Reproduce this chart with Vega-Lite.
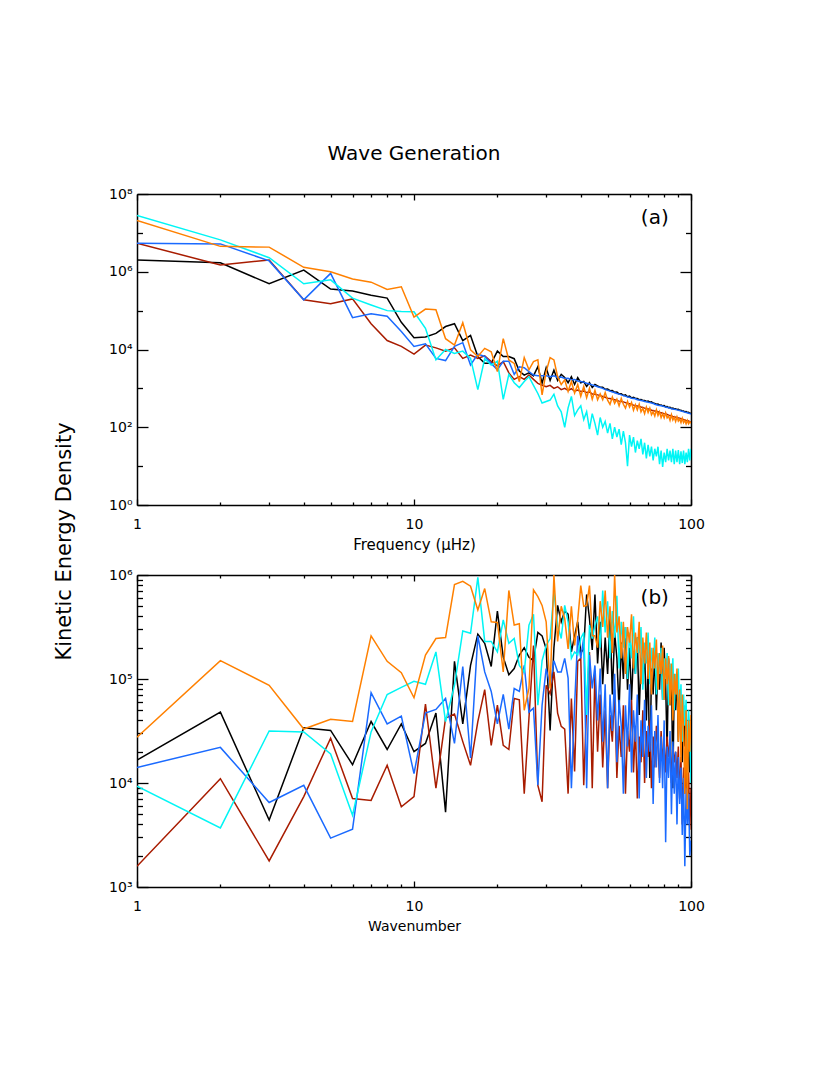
{
"$schema":"https://vega.github.io/schema/vega-lite/v6.json",
"padding":{"left":53,"top":144,"right":20,"bottom":20},
"bounds":"flush",
"spacing":70,
"background":"white",
"title":{"text":"Wave Generation","fontSize":20,"fontWeight":"normal","font":"DejaVu Sans","color":"black","anchor":"middle","frame":"group","offset":7,"baseline":"alphabetic"},
"config":{"font":"DejaVu Sans","view":{"stroke":null},
"axis":{"grid":false,"domainColor":"black","domainWidth":1.5,"tickColor":"black","tickWidth":1.3,"labelFont":"DejaVu Sans","labelFontSize":14,"labelColor":"black","titleFont":"DejaVu Sans","titleFontSize":14,"titleFontWeight":"normal","titleColor":"black","labelFlush":false,"labelOverlap":false,"labelBound":false}},
"datasets":{
"freq":[
{"k":1,"black":2.0e6,"red":5.4e6,"blue":5.4e6,"cyan":2.8e7,"orange":2.1e7},
{"k":2,"black":1.7e6,"red":1.5e6,"blue":5.2e6,"cyan":6.6e6,"orange":4.5e6},
{"k":3,"black":4.9e5,"red":2.0e6,"blue":1.9e6,"cyan":2.3e6,"orange":4.3e6},
{"k":4,"black":1.1e6,"red":1.9e5,"blue":1.9e5,"cyan":4.9e5,"orange":1.3e6},
{"k":5,"black":3.6e5,"red":1.5e5,"blue":9.1e5,"cyan":6.2e5,"orange":1.0e6},
{"k":6,"black":3.2e5,"red":2.0e5,"blue":6.6e4,"cyan":2.1e5,"orange":6.5e5},
{"k":7,"black":2.5e5,"red":4.6e4,"blue":8.3e4,"cyan":1.4e5,"orange":5.4e5},
{"k":8,"black":2.1e5,"red":1.7e4,"blue":7.2e4,"cyan":1.0e5,"orange":3.5e5},
{"k":9,"black":5.0e4,"red":1.2e4,"blue":2.9e4,"cyan":9.5e4,"orange":4.1e5},
{"k":10,"black":2.0e4,"red":7.6e3,"blue":1.2e4,"cyan":9.3e4,"orange":6.8e4},
{"k":11,"black":2.1e4,"red":1.3e4,"blue":1.4e4,"cyan":3.5e4,"orange":1.1e5},
{"k":12,"black":2.6e4,"red":1.1e4,"blue":5.9e3,"cyan":5.4e3,"orange":1.05e5},
{"k":13,"black":3.9e4,"red":9.1e3,"blue":5.2e3,"cyan":1.0e4,"orange":1.9e4},
{"k":14,"black":4.6e4,"red":1.1e4,"blue":1.2e4,"cyan":7.9e3,"orange":1.3e4},
{"k":15,"black":1.7e4,"red":5.9e3,"blue":1.5e4,"cyan":9.1e3,"orange":4.9e4},
{"k":16,"black":2.3e4,"red":7.2e3,"blue":4.0e3,"cyan":5.9e3,"orange":9.8e3},
{"k":17,"black":6.6e3,"red":5.9e3,"blue":7.6e3,"cyan":9.3e2,"orange":6.6e3},
{"k":18,"black":4.4e3,"red":6.9e3,"blue":6.6e3,"cyan":5.8e3,"orange":1.07e4},
{"k":19,"black":4.4e3,"red":4.9e3,"blue":4.4e3,"cyan":4.0e3,"orange":8.7e3},
{"k":20,"black":9.1e3,"red":3.8e3,"blue":3.0e3,"cyan":5.0e3,"orange":2.7e3},
{"k":21,"black":6.6e3,"red":4.9e3,"blue":5.0e3,"cyan":5.2e2,"orange":1.9e4},
{"k":22,"black":6.6e3,"red":2.5e3,"blue":5.0e3,"cyan":2.3e3,"orange":5.4e3},
{"k":23,"black":5.8e3,"red":1.7e3,"blue":2.3e3,"cyan":1.4e3,"orange":4.4e3},
{"k":24,"black":2.8e3,"red":2.0e3,"blue":3.6e3,"cyan":1.05e3,"orange":1.5e3},
{"k":25,"black":2.2e3,"red":1.7e3,"blue":3.4e3,"cyan":1.5e3,"orange":6.2e3},
{"k":26,"black":2.5e3,"red":2.2e3,"blue":2.7e3,"cyan":2.0e3,"orange":3.0e3},
{"k":27,"black":2.1e3,"red":1.7e3,"blue":2.2e3,"cyan":1.2e3,"orange":4.9e3},
{"k":28,"black":3.6e3,"red":1.35e3,"blue":2.1e3,"cyan":7.4e2,"orange":5.4e3},
{"k":29,"black":1.35e3,"red":1.2e3,"blue":2.1e3,"cyan":4.2e2,"orange":6.8e2},
{"k":30,"black":3.4e3,"red":1.1e3,"blue":2.1e3,"cyan":4.6e2,"orange":2.7e3},
{"k":31,"black":1.6e3,"red":1.2e3,"blue":2.0e3,"cyan":5.0e2,"orange":6.2e3},
{"k":32,"black":2.95e3,"red":1.0e3,"blue":2.1e3,"cyan":7.1e2,"orange":5.4e3},
{"k":33,"black":1.6e3,"red":1.1e3,"blue":1.9e3,"cyan":3.55e2,"orange":2.0e3},
{"k":34,"black":2.3e3,"red":9.3e2,"blue":1.95e3,"cyan":2.5e2,"orange":1.26e3},
{"k":35,"black":1.9e3,"red":1.0e3,"blue":1.8e3,"cyan":1.0e2,"orange":1.66e3},
{"k":36,"black":1.4e3,"red":8.9e2,"blue":1.82e3,"cyan":3.16e2,"orange":8.3e2},
{"k":37,"black":2.0e3,"red":9.8e2,"blue":1.66e3,"cyan":6.2e2,"orange":1.5e3},
{"k":38,"black":1.26e3,"red":8.5e2,"blue":1.7e3,"cyan":2.0e2,"orange":7.6e2},
{"k":39,"black":1.9e3,"red":9.1e2,"blue":1.55e3,"cyan":2.8e2,"orange":1.26e3},
{"k":40,"black":1.4e3,"red":8.3e2,"blue":1.5e3,"cyan":3.55e2,"orange":6.3e2},
{"k":41,"black":1.5e3,"red":8.5e2,"blue":1.45e3,"cyan":1.58e2,"orange":1.12e3},
{"k":42,"black":1.12e3,"red":7.8e2,"blue":1.35e3,"cyan":2.5e2,"orange":5.75e2},
{"k":43,"black":1.4e3,"red":8.1e2,"blue":1.29e3,"cyan":8.9e1,"orange":1.0e3},
{"k":44,"black":1.05e3,"red":7.2e2,"blue":1.23e3,"cyan":2.24e2,"orange":5.25e2},
{"k":45,"black":1.26e3,"red":7.1e2,"blue":1.17e3,"cyan":1.26e2,"orange":8.9e2},
{"k":46,"black":1.15e3,"red":6.8e2,"blue":1.1e3,"cyan":6.3e1,"orange":5.1e2},
{"k":47,"black":1.07e3,"red":6.5e2,"blue":1.05e3,"cyan":1.78e2,"orange":7.2e2},
{"k":48,"black":1.07e3,"red":6.2e2,"blue":1.0e3,"cyan":1.0e2,"orange":5.1e2},
{"k":49,"black":9.5e2,"red":5.9e2,"blue":9.3e2,"cyan":1.41e2,"orange":7.8e2},
{"k":50,"black":9.6e2,"red":5.6e2,"blue":8.9e2,"cyan":7.1e1,"orange":5.0e2},
{"k":51,"black":8.7e2,"red":5.5e2,"blue":8.5e2,"cyan":1.26e2,"orange":3.9e2},
{"k":52,"black":8.8e2,"red":5.25e2,"blue":8.1e2,"cyan":5.0e1,"orange":6.0e2},
{"k":53,"black":7.9e2,"red":5.1e2,"blue":7.8e2,"cyan":1.0e2,"orange":4.1e2},
{"k":54,"black":8.0e2,"red":4.9e2,"blue":7.4e2,"cyan":5.6e1,"orange":5.25e2},
{"k":55,"black":7.2e2,"red":4.7e2,"blue":7.1e2,"cyan":8.9e1,"orange":3.55e2},
{"k":56,"black":7.3e2,"red":4.6e2,"blue":6.8e2,"cyan":3.55e1,"orange":5.5e2},
{"k":57,"black":6.6e2,"red":4.5e2,"blue":6.5e2,"cyan":7.9e1,"orange":3.9e2},
{"k":58,"black":6.8e2,"red":4.3e2,"blue":6.3e2,"cyan":4.0e1,"orange":3.1e2},
{"k":59,"black":6.1e2,"red":4.1e2,"blue":6.0e2,"cyan":1.0e1,"orange":4.6e2},
{"k":60,"black":6.3e2,"red":4.0e2,"blue":5.9e2,"cyan":6.3e1,"orange":3.3e2},
{"k":61,"black":5.7e2,"red":3.9e2,"blue":5.6e2,"cyan":3.16e1,"orange":4.3e2},
{"k":62,"black":5.9e2,"red":3.7e2,"blue":5.5e2,"cyan":5.6e1,"orange":2.75e2},
{"k":63,"black":5.5e2,"red":3.6e2,"blue":5.4e2,"cyan":2.24e1,"orange":3.8e2},
{"k":64,"black":5.5e2,"red":3.5e2,"blue":5.1e2,"cyan":4.5e1,"orange":2.8e2},
{"k":65,"black":5.1e2,"red":3.4e2,"blue":5.0e2,"cyan":2.8e1,"orange":3.9e2},
{"k":66,"black":5.2e2,"red":3.3e2,"blue":4.9e2,"cyan":5.0e1,"orange":2.5e2},
{"k":67,"black":4.9e2,"red":3.24e2,"blue":4.8e2,"cyan":2.0e1,"orange":3.1e2},
{"k":68,"black":4.9e2,"red":3.1e2,"blue":4.6e2,"cyan":4.0e1,"orange":2.24e2},
{"k":69,"black":4.6e2,"red":3.0e2,"blue":4.5e2,"cyan":1.58e1,"orange":3.3e2},
{"k":70,"black":4.7e2,"red":2.95e2,"blue":4.4e2,"cyan":3.55e1,"orange":2.4e2},
{"k":71,"black":4.4e2,"red":2.9e2,"blue":4.3e2,"cyan":1.78e1,"orange":3.1e2},
{"k":72,"black":4.5e2,"red":2.75e2,"blue":4.2e2,"cyan":3.16e1,"orange":2.1e2},
{"k":73,"black":4.2e2,"red":2.7e2,"blue":4.1e2,"cyan":1.41e1,"orange":2.5e2},
{"k":74,"black":4.1e2,"red":2.6e2,"blue":3.9e2,"cyan":2.8e1,"orange":1.95e2},
{"k":75,"black":3.9e2,"red":2.57e2,"blue":3.8e2,"cyan":1.78e1,"orange":2.8e2},
{"k":76,"black":3.95e2,"red":2.5e2,"blue":3.7e2,"cyan":3.16e1,"orange":2.0e2},
{"k":77,"black":3.7e2,"red":2.4e2,"blue":3.6e2,"cyan":1.12e1,"orange":2.5e2},
{"k":78,"black":3.75e2,"red":2.35e2,"blue":3.55e2,"cyan":2.5e1,"orange":1.78e2},
{"k":79,"black":3.55e2,"red":2.3e2,"blue":3.5e2,"cyan":9.5,"orange":2.24e2},
{"k":80,"black":3.6e2,"red":2.24e2,"blue":3.4e2,"cyan":2.24e1,"orange":1.74e2},
{"k":81,"black":3.35e2,"red":2.2e2,"blue":3.3e2,"cyan":1.26e1,"orange":2.35e2},
{"k":82,"black":3.4e2,"red":2.14e2,"blue":3.24e2,"cyan":2.8e1,"orange":1.74e2},
{"k":83,"black":3.2e2,"red":2.04e2,"blue":3.16e2,"cyan":1.41e1,"orange":1.95e2},
{"k":84,"black":3.25e2,"red":2.0e2,"blue":3.1e2,"cyan":2.5e1,"orange":1.5e2},
{"k":85,"black":3.05e2,"red":1.95e2,"blue":3.0e2,"cyan":1.26e1,"orange":2.1e2},
{"k":86,"black":3.1e2,"red":1.9e2,"blue":2.95e2,"cyan":2.8e1,"orange":1.55e2},
{"k":87,"black":2.95e2,"red":1.86e2,"blue":2.9e2,"cyan":1.12e1,"orange":1.82e2},
{"k":88,"black":3.0e2,"red":1.82e2,"blue":2.88e2,"cyan":2.5e1,"orange":1.41e2},
{"k":89,"black":2.85e2,"red":1.78e2,"blue":2.8e2,"cyan":1.26e1,"orange":1.86e2},
{"k":90,"black":2.9e2,"red":1.74e2,"blue":2.75e2,"cyan":2.6e1,"orange":1.45e2},
{"k":91,"black":2.75e2,"red":1.7e2,"blue":2.7e2,"cyan":1.12e1,"orange":1.62e2},
{"k":92,"black":2.75e2,"red":1.66e2,"blue":2.6e2,"cyan":2.4e1,"orange":1.32e2},
{"k":93,"black":2.6e2,"red":1.62e2,"blue":2.57e2,"cyan":1.2e1,"orange":1.7e2},
{"k":94,"black":2.62e2,"red":1.58e2,"blue":2.5e2,"cyan":2.5e1,"orange":1.32e2},
{"k":95,"black":2.5e2,"red":1.55e2,"blue":2.45e2,"cyan":1.12e1,"orange":1.5e2},
{"k":96,"black":2.52e2,"red":1.5e2,"blue":2.4e2,"cyan":2.24e1,"orange":1.23e2},
{"k":97,"black":2.4e2,"red":1.48e2,"blue":2.35e2,"cyan":1.26e1,"orange":1.5e2},
{"k":98,"black":2.42e2,"red":1.45e2,"blue":2.3e2,"cyan":2.8e1,"orange":1.23e2},
{"k":99,"black":2.28e2,"red":1.38e2,"blue":2.24e2,"cyan":1.41e1,"orange":1.38e2},
{"k":100,"black":2.3e2,"red":1.35e2,"blue":2.2e2,"cyan":2.8e1,"orange":1.26e2}
],
"wave":[
{"k":1,"black":1.66e4,"red":1.58e3,"blue":1.41e4,"cyan":9.3e3,"orange":2.75e4},
{"k":2,"black":4.8e4,"red":1.1e4,"blue":2.2e4,"cyan":3.7e3,"orange":1.5e5},
{"k":3,"black":4.4e3,"red":1.78e3,"blue":6.5e3,"cyan":3.16e4,"orange":8.7e4},
{"k":4,"black":3.4e4,"red":7.4e3,"blue":9.5e3,"cyan":3.1e4,"orange":3.3e4},
{"k":5,"black":3.2e4,"red":2.7e4,"blue":2.95e3,"cyan":1.9e4,"orange":4.1e4},
{"k":6,"black":1.5e4,"red":7.1e3,"blue":3.6e3,"cyan":4.9e3,"orange":3.9e4},
{"k":7,"black":3.9e4,"red":6.8e3,"blue":7.4e4,"cyan":3.1e4,"orange":2.6e5},
{"k":8,"black":2.1e4,"red":1.48e4,"blue":3.7e4,"cyan":7.1e4,"orange":1.48e5},
{"k":9,"black":3.7e4,"red":5.9e3,"blue":4.4e4,"cyan":8.3e4,"orange":1.15e5},
{"k":10,"black":2.0e4,"red":7.4e3,"blue":1.23e4,"cyan":9.5e4,"orange":6.6e4},
{"k":11,"black":2.4e4,"red":5.75e4,"blue":4.7e4,"cyan":8.9e4,"orange":1.7e5},
{"k":12,"black":4.7e4,"red":8.9e3,"blue":5.1e4,"cyan":1.82e5,"orange":2.45e5},
{"k":13,"black":5.25e3,"red":4.2e4,"blue":6.5e4,"cyan":3.9e4,"orange":2.5e5},
{"k":14,"black":1.48e5,"red":4.6e4,"blue":2.4e4,"cyan":8.7e4,"orange":8.1e5},
{"k":15,"black":3.7e4,"red":2.5e4,"blue":1.32e5,"cyan":2.9e5,"orange":8.7e5},
{"k":16,"black":1.35e5,"red":1.48e4,"blue":1.74e4,"cyan":2.75e5,"orange":7.8e5},
{"k":17,"black":2.7e5,"red":3.9e4,"blue":2.6e5,"cyan":9.5e5,"orange":4.6e5},
{"k":18,"black":2.2e5,"red":7.9e4,"blue":1.17e5,"cyan":2.3e5,"orange":7.4e5},
{"k":19,"black":1.32e5,"red":2.3e4,"blue":7.6e4,"cyan":2.3e5,"orange":3.55e5},
{"k":20,"black":4.5e5,"red":5.6e4,"blue":3.7e4,"cyan":1.82e5,"orange":3.5e5},
{"k":21,"black":1.62e5,"red":2.3e4,"blue":7.1e4,"cyan":3.7e5,"orange":1.17e5},
{"k":22,"black":1.1e5,"red":2.1e4,"blue":3.3e4,"cyan":2.2e5,"orange":7.1e5},
{"k":23,"black":1.26e5,"red":6.5e4,"blue":8.1e4,"cyan":2.45e5,"orange":3.3e5},
{"k":24,"black":1.7e5,"red":6.3e4,"blue":7.6e4,"cyan":1.35e5,"orange":3.4e5},
{"k":25,"black":2.0e5,"red":7.9e3,"blue":1.35e5,"cyan":1.17e5,"orange":5.0e4},
{"k":26,"black":1.62e5,"red":4.2e4,"blue":4.8e4,"cyan":3.3e5,"orange":8.1e4},
{"k":27,"black":1.5e5,"red":2.1e5,"blue":5.25e4,"cyan":4.2e5,"orange":7.2e5},
{"k":28,"black":2.8e5,"red":9.5e3,"blue":9.5e3,"cyan":5.6e4,"orange":6.2e5},
{"k":29,"black":2.6e5,"red":6.6e3,"blue":5.6e4,"cyan":1.5e5,"orange":5.1e5},
{"k":30,"black":1.95e5,"red":8.7e4,"blue":1.26e5,"cyan":2.1e5,"orange":3.55e5},
{"k":31,"black":3.2e4,"red":7.2e4,"blue":8.7e4,"cyan":2.45e5,"orange":8.1e4},
{"k":32,"black":2.0e5,"red":1.17e5,"blue":1.5e5,"cyan":6.9e5,"orange":1.0e6},
{"k":33,"black":5.1e5,"red":4.7e4,"blue":1.17e5,"cyan":3.3e5,"orange":2.3e5},
{"k":34,"black":3.55e5,"red":3.5e4,"blue":1.17e5,"cyan":2.45e5,"orange":5.0e5},
{"k":35,"black":4.5e5,"red":3.3e4,"blue":1.58e5,"cyan":5.1e5,"orange":3.8e5},
{"k":36,"black":4.2e5,"red":7.9e3,"blue":1.02e5,"cyan":3.55e5,"orange":1.95e5},
{"k":37,"black":1.82e5,"red":6.5e4,"blue":8.9e3,"cyan":1.58e5,"orange":5.0e5},
{"k":38,"black":2.6e5,"red":1.29e4,"blue":5.6e4,"cyan":1.82e5,"orange":2.1e5},
{"k":39,"black":3.55e5,"red":1.48e5,"blue":2.6e5,"cyan":1.7e5,"orange":3.7e5},
{"k":40,"black":1.78e5,"red":1.58e5,"blue":1.58e5,"cyan":2.45e5,"orange":7.9e5},
{"k":41,"black":1.95e5,"red":9.5e3,"blue":2.5e5,"cyan":2.8e5,"orange":5.0e5},
{"k":42,"black":6.5e5,"red":5.6e4,"blue":8.9e3,"cyan":4.5e4,"orange":5.1e5},
{"k":43,"black":3.8e5,"red":1.82e5,"blue":1.7e5,"cyan":3.3e5,"orange":7.9e5},
{"k":44,"black":1.9e5,"red":8.9e3,"blue":8.1e4,"cyan":2.45e5,"orange":2.6e5},
{"k":45,"black":6.5e5,"red":1.17e5,"blue":1.35e5,"cyan":3.3e5,"orange":2.6e5},
{"k":46,"black":1.41e5,"red":2.0e4,"blue":4.0e4,"cyan":4.0e5,"orange":2.0e5},
{"k":47,"black":3.55e5,"red":7.1e4,"blue":1.26e5,"cyan":2.0e5,"orange":5.6e5},
{"k":48,"black":8.9e4,"red":1.41e4,"blue":2.5e4,"cyan":7.1e5,"orange":3.16e5},
{"k":49,"black":2.5e5,"red":5.0e4,"blue":8.9e4,"cyan":2.8e5,"orange":7.1e5},
{"k":50,"black":1.12e5,"red":8.9e3,"blue":8.9e3,"cyan":5.6e5,"orange":2.5e5},
{"k":51,"black":4.0e5,"red":4.5e4,"blue":7.1e4,"cyan":1.58e5,"orange":5.0e5},
{"k":52,"black":7.1e4,"red":2.5e4,"blue":3.16e4,"cyan":4.5e5,"orange":1.78e5},
{"k":53,"black":2.8e5,"red":7.9e4,"blue":1.12e5,"cyan":2.5e5,"orange":1.0e6},
{"k":54,"black":1.58e5,"red":1.12e4,"blue":1.58e4,"cyan":6.3e5,"orange":2.8e5},
{"k":55,"black":5.0e4,"red":3.55e4,"blue":6.3e4,"cyan":1.26e5,"orange":4.0e5},
{"k":56,"black":2.24e5,"red":1.78e4,"blue":3.55e4,"cyan":3.55e5,"orange":1.58e5},
{"k":57,"black":1.0e5,"red":5.6e4,"blue":7.9e3,"cyan":2.0e5,"orange":3.55e5},
{"k":58,"black":3.16e5,"red":7.9e3,"blue":5.6e4,"cyan":3.16e5,"orange":1.12e5},
{"k":59,"black":7.9e4,"red":3.16e4,"blue":2.24e4,"cyan":1.0e5,"orange":3.16e5},
{"k":60,"black":2.0e5,"red":2.0e4,"blue":8.9e4,"cyan":2.8e5,"orange":2.24e5},
{"k":61,"black":6.3e4,"red":6.3e4,"blue":1.26e4,"cyan":1.58e5,"orange":4.2e5},
{"k":62,"black":1.78e5,"red":1.26e4,"blue":5.0e4,"cyan":4.0e5,"orange":1.26e5},
{"k":63,"black":1.12e5,"red":3.55e4,"blue":2.5e4,"cyan":1.12e5,"orange":2.8e5},
{"k":64,"black":2.5e5,"red":7.1e3,"blue":7.1e4,"cyan":2.5e5,"orange":1.78e5},
{"k":65,"black":4.5e4,"red":2.8e4,"blue":7.1e3,"cyan":1.78e5,"orange":3.55e5},
{"k":66,"black":1.58e5,"red":1.58e4,"blue":4.0e4,"cyan":3.16e5,"orange":8.9e4},
{"k":67,"black":8.9e4,"red":5.0e4,"blue":1.78e4,"cyan":7.9e4,"orange":2.5e5},
{"k":68,"black":2.0e5,"red":1.0e4,"blue":6.3e4,"cyan":2.24e5,"orange":1.41e5},
{"k":69,"black":4.0e4,"red":3.16e4,"blue":1.12e4,"cyan":1.41e5,"orange":2.8e5},
{"k":70,"black":1.41e5,"red":1.78e4,"blue":3.55e4,"cyan":2.8e5,"orange":1.0e5},
{"k":71,"black":1.12e4,"red":4.0e4,"blue":2.0e4,"cyan":8.9e4,"orange":2.24e5},
{"k":72,"black":1.26e5,"red":8.9e3,"blue":5.6e4,"cyan":2.0e5,"orange":7.1e4},
{"k":73,"black":7.1e4,"red":2.8e4,"blue":6.3e3,"cyan":1.26e5,"orange":2.0e5},
{"k":74,"black":1.78e5,"red":1.41e4,"blue":3.16e4,"cyan":2.5e5,"orange":1.26e5},
{"k":75,"black":5.0e4,"red":3.55e4,"blue":1.41e4,"cyan":7.1e4,"orange":2.4e5},
{"k":76,"black":1.41e5,"red":2.24e4,"blue":4.5e4,"cyan":1.78e5,"orange":7.9e4},
{"k":77,"black":7.9e4,"red":1.12e4,"blue":1.0e4,"cyan":1.12e5,"orange":1.78e5},
{"k":78,"black":2.24e5,"red":3.16e4,"blue":2.8e4,"cyan":2.0e5,"orange":1.12e5},
{"k":79,"black":6.3e4,"red":1.58e4,"blue":8.9e3,"cyan":6.3e4,"orange":2.1e5},
{"k":80,"black":2.0e5,"red":2.5e4,"blue":4.0e4,"cyan":1.58e5,"orange":6.3e4},
{"k":81,"black":8.9e4,"red":1.26e4,"blue":2.7e3,"cyan":1.0e5,"orange":1.58e5},
{"k":82,"black":2.0e4,"red":2.8e4,"blue":2.24e4,"cyan":1.78e5,"orange":8.9e4},
{"k":83,"black":1.58e5,"red":1.78e4,"blue":1.12e4,"cyan":5.6e4,"orange":1.66e5},
{"k":84,"black":5.6e4,"red":2.5e4,"blue":3.16e4,"cyan":1.41e5,"orange":5.6e4},
{"k":85,"black":1.26e5,"red":1.0e4,"blue":5.0e3,"cyan":8.9e4,"orange":1.41e5},
{"k":86,"black":8.9e3,"red":2.24e4,"blue":2.5e4,"cyan":1.58e5,"orange":4.0e4},
{"k":87,"black":1.0e5,"red":1.58e4,"blue":7.9e3,"cyan":5.0e4,"orange":1.12e5},
{"k":88,"black":5.0e4,"red":2.0e4,"blue":2.0e4,"cyan":1.12e5,"orange":7.1e4},
{"k":89,"black":1.12e5,"red":1.12e4,"blue":4.0e3,"cyan":7.1e4,"orange":1.26e5},
{"k":90,"black":2.5e4,"red":2.24e4,"blue":1.78e4,"cyan":1.26e5,"orange":2.5e4},
{"k":91,"black":7.9e4,"red":7.1e3,"blue":6.3e3,"cyan":4.0e4,"orange":7.9e4},
{"k":92,"black":3.55e4,"red":1.78e4,"blue":1.41e4,"cyan":8.9e4,"orange":1.58e4},
{"k":93,"black":1.58e4,"red":4.0e3,"blue":3.16e3,"cyan":2.5e4,"orange":7.1e4},
{"k":94,"black":5.6e4,"red":1.41e4,"blue":1.12e4,"cyan":7.1e4,"orange":3.16e4},
{"k":95,"black":2.24e4,"red":7.9e3,"blue":1.58e3,"cyan":3.55e4,"orange":7.9e3},
{"k":96,"black":4.0e4,"red":1.58e4,"blue":8.9e3,"cyan":6.3e4,"orange":5.0e4},
{"k":97,"black":1.0e4,"red":5.0e3,"blue":4.0e3,"cyan":1.78e4,"orange":5.6e3},
{"k":98,"black":3.16e4,"red":1.26e4,"blue":7.9e3,"cyan":5.0e4,"orange":4.0e4},
{"k":99,"black":1.26e4,"red":3.55e3,"blue":2.0e3,"cyan":3.16e4,"orange":2.0e4},
{"k":100,"black":2.0e4,"red":8.9e3,"blue":2.8e3,"cyan":1.0e4,"orange":4.5e4}
]},
"vconcat":[
{"width":554,"height":311,
"layer":[
{"data":{"name":"freq"},
"transform":[{"fold":["black","red","blue","cyan","orange"],"as":["series","v"]}],
"mark":{"type":"line","strokeWidth":1.5,"clip":true},
"encoding":{
"x":{"field":"k","type":"quantitative","scale":{"type":"log","domain":[1,100]},
"axis":{"orient":"bottom","values":[1,2,3,4,5,6,7,8,9,10,20,30,40,50,60,70,80,90,100],"labelExpr":"datum.value==1?'1':datum.value==10?'10':datum.value==100?'100':''","tickSize":{"condition":{"test":"datum.value==1||datum.value==10||datum.value==100","value":-6},"value":-3},"labelPadding":18,"title":"Frequency (μHz)","titleFontSize":15,"titlePadding":3}},
"y":{"field":"v","type":"quantitative","scale":{"type":"log","domain":[1,100000000]},
"axis":{"orient":"left","values":[1,10,100,1000,10000,100000,1000000,10000000,100000000],"labelExpr":"datum.value==1?'10⁰':datum.value==100?'10²':datum.value==10000?'10⁴':datum.value==1000000?'10⁶':datum.value==100000000?'10⁸':''","tickSize":{"condition":{"test":"datum.value==1||datum.value==100||datum.value==10000||datum.value==1000000||datum.value==100000000","value":-11},"value":-5.5},"labelPadding":16,"title":"Kinetic Energy Density","titleFontSize":21,"titleX":-67,"titleY":347,"titleBaseline":"alphabetic","titleAlign":"center"}},
"color":{"field":"series","type":"nominal","scale":{"domain":["black","red","blue","cyan","orange"],"range":["#000000","#a81c00","#1a6aff","#00f5f5","#ff8000"]},"legend":null}}},
{"data":{"name":"freq"},
"mark":{"type":"line","opacity":0},
"encoding":{
"x":{"field":"k","type":"quantitative","axis":{"orient":"top","values":[1,2,3,4,5,6,7,8,9,10,20,30,40,50,60,70,80,90,100],"labels":false,"title":null,"tickSize":{"condition":{"test":"datum.value==1||datum.value==10||datum.value==100","value":-6},"value":-3}}},
"y":{"field":"black","type":"quantitative","axis":{"orient":"right","values":[1,10,100,1000,10000,100000,1000000,10000000,100000000],"labels":false,"title":null,"tickSize":{"condition":{"test":"datum.value==1||datum.value==100||datum.value==10000||datum.value==1000000||datum.value==100000000","value":-11},"value":-5.5}}}}},
{"data":{"values":[{}]},
"mark":{"type":"text","text":"(a)","fontSize":20,"font":"DejaVu Sans","color":"black","align":"center","baseline":"middle"},
"encoding":{"x":{"datum":74,"type":"quantitative","axis":null},"y":{"datum":23500000,"type":"quantitative","axis":null}}}
],
"resolve":{"axis":{"x":"independent","y":"independent"}}},
{"width":554,"height":312,
"layer":[
{"data":{"name":"wave"},
"transform":[{"fold":["black","red","blue","cyan","orange"],"as":["series","v"]}],
"mark":{"type":"line","strokeWidth":1.5,"clip":true},
"encoding":{
"x":{"field":"k","type":"quantitative","scale":{"type":"log","domain":[1,100]},
"axis":{"orient":"bottom","values":[1,2,3,4,5,6,7,8,9,10,20,30,40,50,60,70,80,90,100],"labelExpr":"datum.value==1?'1':datum.value==10?'10':datum.value==100?'100':''","tickSize":{"condition":{"test":"datum.value==1||datum.value==10||datum.value==100","value":-6},"value":-3},"labelPadding":18,"title":"Wavenumber","titlePadding":3}},
"y":{"field":"v","type":"quantitative","scale":{"type":"log","domain":[1000,1000000]},
"axis":{"orient":"left","values":[1000,2000,3000,4000,5000,6000,7000,8000,9000,10000,20000,30000,40000,50000,60000,70000,80000,90000,100000,200000,300000,400000,500000,600000,700000,800000,900000,1000000],"labelExpr":"datum.value==1000?'10³':datum.value==10000?'10⁴':datum.value==100000?'10⁵':datum.value==1000000?'10⁶':''","tickSize":{"condition":{"test":"datum.value==1000||datum.value==10000||datum.value==100000||datum.value==1000000","value":-11},"value":-5.5},"labelPadding":16,"title":null}},
"color":{"field":"series","type":"nominal","scale":{"domain":["black","red","blue","cyan","orange"],"range":["#000000","#a81c00","#1a6aff","#00f5f5","#ff8000"]},"legend":null}}},
{"data":{"name":"wave"},
"mark":{"type":"line","opacity":0},
"encoding":{
"x":{"field":"k","type":"quantitative","axis":{"orient":"top","values":[1,2,3,4,5,6,7,8,9,10,20,30,40,50,60,70,80,90,100],"labels":false,"title":null,"tickSize":{"condition":{"test":"datum.value==1||datum.value==10||datum.value==100","value":-6},"value":-3}}},
"y":{"field":"black","type":"quantitative","axis":{"orient":"right","values":[1000,2000,3000,4000,5000,6000,7000,8000,9000,10000,20000,30000,40000,50000,60000,70000,80000,90000,100000,200000,300000,400000,500000,600000,700000,800000,900000,1000000],"labels":false,"title":null,"tickSize":{"condition":{"test":"datum.value==1000||datum.value==10000||datum.value==100000||datum.value==1000000","value":-11},"value":-5.5}}}}},
{"data":{"values":[{}]},
"mark":{"type":"text","text":"(b)","fontSize":20,"font":"DejaVu Sans","color":"black","align":"center","baseline":"middle"},
"encoding":{"x":{"datum":74,"type":"quantitative","axis":null},"y":{"datum":600000,"type":"quantitative","axis":null}}}
],
"resolve":{"axis":{"x":"independent","y":"independent"}}}
]}
